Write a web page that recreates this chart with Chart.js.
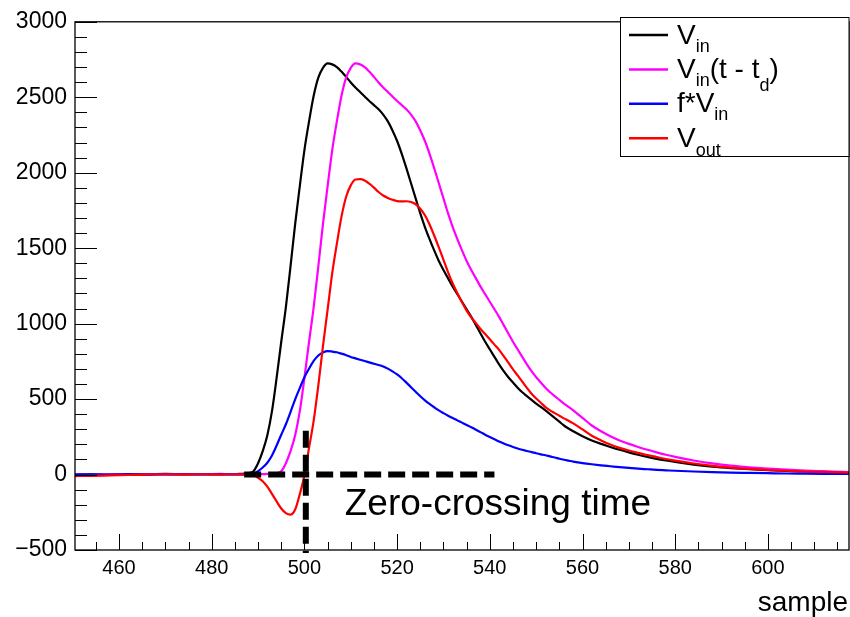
<!doctype html>
<html lang="en">
<head>
<meta charset="utf-8">
<title>Zero-crossing time</title>
<script src="https://cdn.jsdelivr.net/npm/chart.js@4.4.0/dist/chart.umd.min.js"></script>
<style>
  html, body { margin: 0; padding: 0; background: #fff; }
  canvas { display: block; }
</style>
</head>
<body>
<canvas id="myChart" width="850" height="617"></canvas>
<script>
// sample numbers (x axis)
const samples = [450, 454, 458, 462, 466, 470, 474, 478, 482,
  484, 485, 486, 487, 488, 489, 490, 491, 492, 493, 494, 495, 496, 497, 498, 499,
  500, 501, 502, 503, 504, 505, 506, 507, 508, 509,
  510, 511, 512, 513, 514, 515, 516, 517, 518, 519,
  520, 521, 522, 523, 524, 525, 526, 527, 528, 529,
  530, 531, 532, 533, 534, 535, 536, 537, 538, 539,
  540, 541, 542, 543, 544, 545, 546, 547, 548, 549,
  550, 551, 552, 553, 554, 555, 556, 557, 558, 559, 560,
  562, 564, 566, 568, 570, 572, 574, 576, 578, 580,
  584, 588, 592, 596, 600, 604, 608, 612, 616, 618];

// V_in
const vin = [0, 2, -2, 3, 1, 4, 2, 3, 3,
  2, 3, 4, 6, 10, 22, 75, 155, 260, 420, 640, 880, 1110, 1380, 1660, 1910,
  2150, 2340, 2510, 2630, 2695, 2725, 2718, 2700, 2670, 2635,
  2598, 2565, 2535, 2505, 2475, 2448, 2420, 2385, 2340, 2280,
  2210, 2125, 2030, 1930, 1830, 1730, 1640, 1560, 1485, 1415,
  1355, 1300, 1245, 1195, 1145, 1095, 1045, 990, 935, 880,
  830, 780, 730, 685, 645, 610, 575, 545, 520, 495,
  470, 448, 425, 400, 375, 350, 325, 305, 287, 270, 254,
  226, 203, 183, 164, 147, 131, 117, 104, 93, 83,
  66, 53, 43, 35, 29, 24, 20, 16, 13, 12];

// V_in(t - t_d)
const vinDelayed = [1, -2, 2, 0, 3, 1, 3, 2, 4,
  3, 3, 2, 2, 2, 2, 2, 3, 4, 6, 10, 22, 75, 155, 260, 420,
  640, 880, 1110, 1380, 1660, 1910, 2150, 2340, 2510, 2630,
  2695, 2725, 2718, 2700, 2670, 2635, 2598, 2565, 2535, 2505,
  2475, 2448, 2420, 2385, 2340, 2280, 2210, 2125, 2030, 1930,
  1830, 1730, 1640, 1560, 1485, 1415, 1355, 1300, 1245, 1195,
  1145, 1095, 1045, 990, 935, 880, 830, 780, 730, 685,
  645, 610, 575, 545, 520, 495, 470, 448, 425, 400, 375,
  325, 287, 254, 226, 203, 183, 164, 147, 131, 117,
  93, 74, 59, 48, 39, 32, 26, 22, 18, 16];

// f*V_in
const fVin = [0, 1, -1, 1, 0, 1, 1, 1, 1,
  1, 1, 1, 2, 3, 7, 23, 47, 78, 126, 192, 264, 333, 414, 498, 573,
  645, 702, 753, 789, 809, 818, 815, 810, 801, 791,
  779, 770, 761, 752, 743, 734, 726, 716, 702, 684,
  663, 638, 609, 579, 549, 519, 492, 468, 446, 425,
  407, 390, 374, 359, 344, 329, 314, 297, 281, 264,
  249, 234, 219, 206, 194, 183, 173, 164, 156, 149,
  141, 134, 128, 120, 113, 105, 98, 92, 86, 81, 76,
  68, 61, 55, 49, 44, 39, 35, 31, 28, 25,
  20, 16, 13, 11, 9, 7, 6, 5, 4, 4];

// V_out
const vout = [-10, -9, -6, -3, 0, 2, 0, 2, 0,
  2, 2, 1, 0, -1, -5, -21, -44, -80, -128, -178, -225, -256, -266, -232, -130,
  -5, 178, 357, 591, 851, 1092, 1335, 1530, 1709, 1841,
  1916, 1955, 1957, 1948, 1927, 1901, 1872, 1849, 1833, 1821,
  1812, 1810, 1811, 1806, 1791, 1761, 1718, 1657, 1584, 1505,
  1423, 1340, 1266, 1201, 1141, 1086, 1041, 1003, 964, 931,
  896, 861, 826, 784, 741, 697, 657, 616, 574, 536,
  504, 476, 447, 425, 407, 390, 372, 356, 339, 319, 299,
  257, 226, 199, 177, 159, 144, 129, 116, 103, 92,
  73, 58, 46, 37, 30, 25, 20, 17, 14, 12];

const xTicks = [460, 480, 500, 520, 540, 560, 580, 600];
const yTicks = [-500, 0, 500, 1000, 1500, 2000, 2500, 3000];

// legend text: [text, subscript drop in px (0 = normal)]
const legendLabels = [
  [['V', 0], ['in', 8]],
  [['V', 0], ['in', 8], ['(t - t', 0], ['d', 13], [')', 0]],
  [['f*V', 0], ['in', 8]],
  [['V', 0], ['out', 9]]
];
const colors = ['#000000', '#ff00ff', '#0000ff', '#ff0000'];

const fontFamily = "'Liberation Sans', Arial, Helvetica, sans-serif";

const toPoints = ys => samples.map((s, i) => ({x: s, y: ys[i]}));

// ROOT-like frame, inner ticks, marker and legend
const rootStyle = {
  id: 'rootStyle',
  afterDatasetsDraw(chart) {
    const {ctx, chartArea: a, scales: {x, y}} = chart;
    ctx.save();
    ctx.strokeStyle = '#000';
    ctx.lineWidth = 6;
    ctx.setLineDash([17, 7]);
    ctx.beginPath();
    ctx.moveTo(x.getPixelForValue(487), y.getPixelForValue(0));
    ctx.lineTo(x.getPixelForValue(541), y.getPixelForValue(0));
    ctx.stroke();
    ctx.beginPath();
    ctx.moveTo(x.getPixelForValue(500.3), y.getPixelForValue(290));
    ctx.lineTo(x.getPixelForValue(500.3), a.bottom + 3);
    ctx.stroke();
    ctx.setLineDash([]);

    ctx.fillStyle = '#000';
    ctx.font = '37px ' + fontFamily;
    ctx.textAlign = 'left';
    ctx.textBaseline = 'alphabetic';
    ctx.fillText('Zero-crossing time', x.getPixelForValue(508.7), y.getPixelForValue(-266));
    ctx.restore();
  },
  afterDraw(chart) {
    const {ctx, chartArea: a, scales: {x, y}} = chart;
    ctx.save();
    ctx.strokeStyle = '#000';

    // ticks
    ctx.lineWidth = 1;
    ctx.beginPath();
    for (let v = -500; v <= 3000; v += 100) {
      const py = Math.round(y.getPixelForValue(v)) + 0.5;
      const len = v % 500 === 0 ? 22 : 12;
      ctx.moveTo(a.left, py);
      ctx.lineTo(a.left + len, py);
    }
    for (let v = 455; v <= 615; v += 5) {
      const px = Math.round(x.getPixelForValue(v)) + 0.5;
      const len = v % 20 === 0 ? 16 : 8;
      ctx.moveTo(px, a.bottom);
      ctx.lineTo(px, a.bottom - len);
    }
    ctx.stroke();

    // frame
    ctx.lineWidth = 1.3;
    ctx.strokeRect(a.left, a.top, a.right - a.left, a.bottom - a.top);

    // axis title
    ctx.fillStyle = '#000';
    ctx.font = '28px ' + fontFamily;
    ctx.textAlign = 'right';
    ctx.textBaseline = 'alphabetic';
    ctx.fillText('sample', 848, 611);

    // legend
    const lx = 620.5, ly = 17.5, lw = 228.5, lh = 139;
    ctx.fillStyle = '#fff';
    ctx.fillRect(lx, ly, lw, lh);
    ctx.lineWidth = 1;
    ctx.strokeStyle = '#000';
    ctx.strokeRect(lx, ly, lw, lh);
    legendLabels.forEach((parts, i) => {
      const base = 43.5 + i * 34.4;
      ctx.strokeStyle = colors[i];
      ctx.lineWidth = 2.5;
      ctx.beginPath();
      ctx.moveTo(629, base - 8.5);
      ctx.lineTo(668, base - 8.5);
      ctx.stroke();
      let tx = 677;
      ctx.fillStyle = '#000';
      ctx.textAlign = 'left';
      parts.forEach(([t, drop]) => {
        ctx.font = (drop ? '18px ' : '28px ') + fontFamily;
        ctx.fillText(t, tx, base + drop);
        tx += ctx.measureText(t).width;
      });
    });
    ctx.restore();
  }
};

const makeSet = (ys, i, order) => ({
  data: toPoints(ys),
  borderColor: colors[i],
  borderWidth: 2.2,
  pointRadius: 0,
  cubicInterpolationMode: 'monotone',
  fill: false,
  order: order
});

new Chart(document.getElementById('myChart'), {
  type: 'line',
  data: {
    datasets: [
      makeSet(vin, 0, 3),
      makeSet(vinDelayed, 1, 2),
      makeSet(fVin, 2, 1),
      makeSet(vout, 3, 0)
    ]
  },
  options: {
    responsive: false,
    animation: false,
    events: [],
    layout: { padding: { top: 20, right: 1, left: 0, bottom: 0 } },
    plugins: { legend: { display: false }, tooltip: { enabled: false } },
    scales: {
      x: {
        type: 'linear',
        min: 450.5,
        max: 617.5,
        afterBuildTicks: s => { s.ticks = xTicks.map(v => ({value: v})); },
        afterFit: s => { s.height = 67; },
        grid: { display: false, drawTicks: false },
        border: { display: false },
        ticks: {
          autoSkip: false, maxRotation: 0, padding: 6,
          color: '#000', font: { family: fontFamily, size: 20 }
        }
      },
      y: {
        type: 'linear',
        min: -500,
        max: 3000,
        afterBuildTicks: s => { s.ticks = yTicks.map(v => ({value: v})); },
        afterFit: s => { s.width = 75; },
        grid: { display: false, drawTicks: false },
        border: { display: false },
        ticks: {
          padding: 8, color: '#000', font: { family: fontFamily, size: 23 },
          callback: v => String(v).replace('-', '\u2212')
        }
      }
    }
  },
  plugins: [rootStyle]
});
</script>
</body>
</html>
